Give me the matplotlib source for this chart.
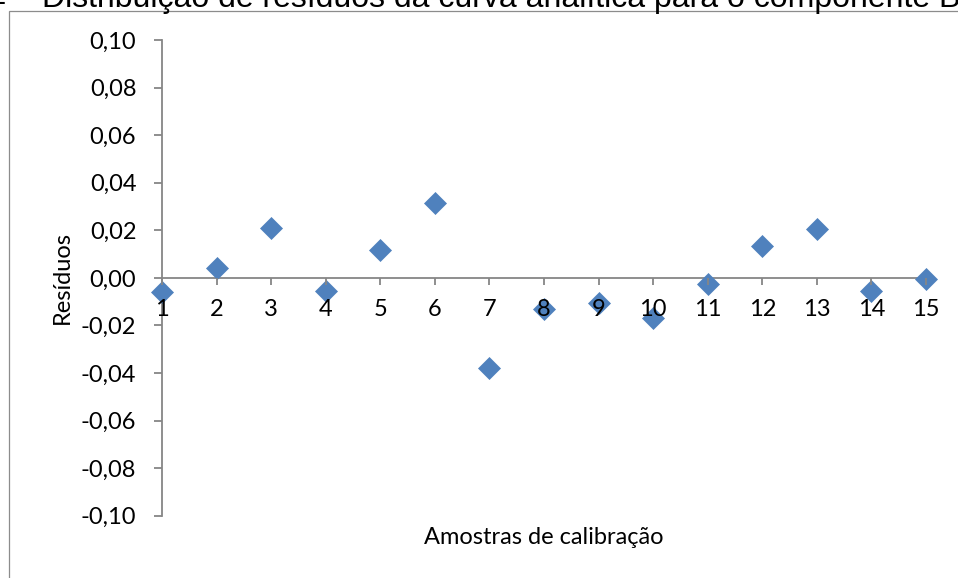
import matplotlib
matplotlib.use("Agg")
import matplotlib.pyplot as plt
from matplotlib.patches import Rectangle
from matplotlib.ticker import FuncFormatter

# Calibration samples and their residuals
amostras = list(range(1, 16))
residuos = [-0.0058, 0.0041, 0.0211, -0.0054, 0.0117, 0.0316, -0.0380,
            -0.0129, -0.0107, -0.0170, -0.0025, 0.0135, 0.0206, -0.0054, -0.0004]
y_ticks = [-0.10, -0.08, -0.06, -0.04, -0.02, 0.00, 0.02, 0.04, 0.06, 0.08, 0.10]

titulo = "Distribuição de resíduos da curva analítica para o componente B"
rotulo_x = "Amostras de calibração"
rotulo_y = "Resíduos"

W, H = 958, 578
fig = plt.figure(figsize=(W / 100, H / 100), dpi=100)
fig.patch.set_facecolor("white")

FONT = "Lato"
FS = 17
AXIS_GRAY = "#868686"

ax = fig.add_axes([162 / W, 1 - 515.7 / H, (926 - 162) / W, (515.7 - 40) / H])
ax.set_facecolor("none")

ax.plot(amostras, residuos, linestyle="none", marker="D", markersize=11,
        markerfacecolor="#4F81BD", markeredgecolor="#4F81BD", markeredgewidth=0.5,
        clip_on=False, zorder=2.7)

ax.set_xlim(1, 15)
ax.set_ylim(-0.10, 0.10)
ax.set_xticks(amostras)
ax.set_yticks(y_ticks)
ax.yaxis.set_major_formatter(FuncFormatter(lambda v, p: f"{v:.2f}".replace(".", ",").replace("-0,00", "0,00")))

for side in ("top", "right"):
    ax.spines[side].set_visible(False)
ax.spines["bottom"].set_position(("data", 0))
for side in ("left", "bottom"):
    ax.spines[side].set_color(AXIS_GRAY)
    ax.spines[side].set_linewidth(1.3)
    ax.spines[side].set_zorder(2.5)

ax.tick_params(axis="y", direction="out", length=6, width=1.3, color=AXIS_GRAY,
               pad=12.5, labelsize=FS, labelcolor="black")
ax.tick_params(axis="x", direction="out", length=5, width=1.3, color=AXIS_GRAY,
               pad=10, labelsize=FS, labelcolor="black")
for lab in ax.get_xticklabels() + ax.get_yticklabels():
    lab.set_fontfamily(FONT)
ax.xaxis.set_zorder(3)

# Axis titles
fig.text(62 / W, 1 - 277.8 / H, rotulo_y, rotation=90, ha="center", va="center",
         fontsize=FS, family=FONT)
fig.text(544 / W, 1 - 537 / H, rotulo_x, ha="center", va="center",
         fontsize=FS, family=FONT)

# Outer chart frame (only its left and top edges fall inside the image)
fig.patches.append(Rectangle((8.7 / W, -0.5), 2.0, 1.5 - 10.7 / H,
                             transform=fig.transFigure, facecolor="none",
                             edgecolor="#8c8c8c", linewidth=0.9))

# Caption above the frame
fig.text(42 / W, 1 - 6.5 / H, titulo, ha="left", va="baseline",
         fontsize=23, family="Liberation Sans")
fig.text(5 / W, 1 - 10.5 / H, "–", ha="right", va="baseline",
         fontsize=23, family="Liberation Sans")

fig.savefig("out.png", dpi=100)
